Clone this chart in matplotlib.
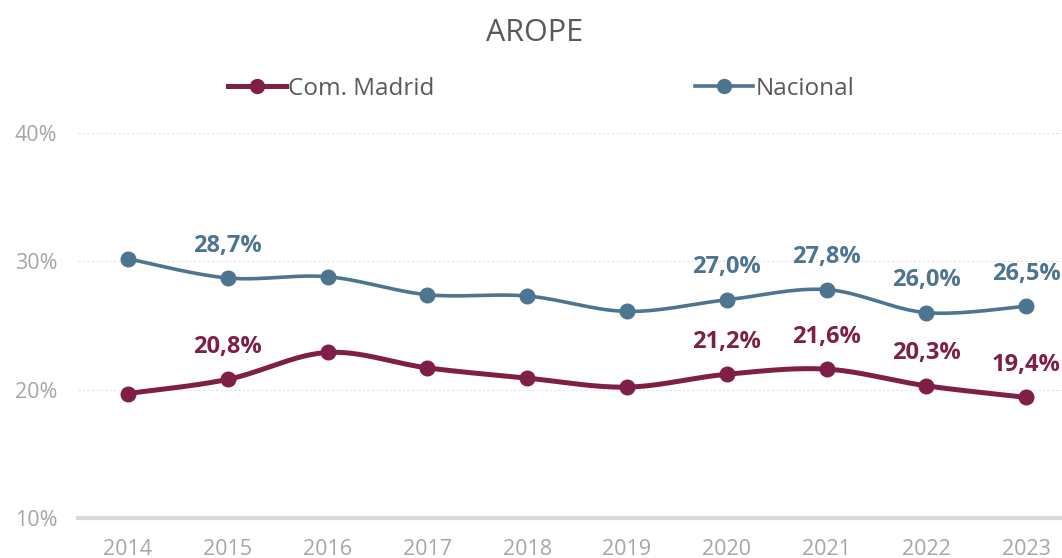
import matplotlib
matplotlib.use("Agg")
import matplotlib.pyplot as plt
import numpy as np

plt.rcParams['font.family'] = ['Open Sans', 'DejaVu Sans']

years = ['2014', '2015', '2016', '2017', '2018', '2019', '2020', '2021', '2022', '2023']
madrid = [19.7, 20.8, 22.9, 21.7, 20.9, 20.2, 21.2, 21.6, 20.3, 19.4]
nacional = [30.2, 28.7, 28.8, 27.4, 27.3, 26.1, 27.0, 27.8, 26.0, 26.5]
labelled_years = ['2015', '2020', '2021', '2022', '2023']

c_madrid = '#7f1f45'
c_nacional = '#4e758f'


def smooth(y, steps=30):
    # excel-like smoothed line: bezier segments with catmull-rom control points
    x = np.arange(len(y), dtype=float)
    pts = np.column_stack([x, np.asarray(y, dtype=float)])
    pad = np.vstack([pts[0], pts, pts[-1]])
    out = []
    t = np.linspace(0, 1, steps)[:, None]
    for i in range(len(pts) - 1):
        p0, p1, p2, p3 = pad[i], pad[i + 1], pad[i + 2], pad[i + 3]
        c1 = p1 + (p2 - p0) / 6
        c2 = p2 - (p3 - p1) / 6
        seg = (1 - t) ** 3 * p1 + 3 * (1 - t) ** 2 * t * c1 + 3 * (1 - t) * t ** 2 * c2 + t ** 3 * p2
        out.append(seg if i == 0 else seg[1:])
    out = np.vstack(out)
    return out[:, 0], out[:, 1]


fig = plt.figure(figsize=(10.62, 5.58), dpi=100)
ax = fig.add_axes([78 / 1062, 40 / 558, 998 / 1062, 385 / 558])

x = np.arange(len(years))
for vals, col, lw, name in [(nacional, c_nacional, 2.6, 'Nacional'),
                            (madrid, c_madrid, 3.6, 'Com. Madrid')]:
    sx, sy = smooth(vals)
    ax.plot(sx, sy, color=col, lw=lw, solid_capstyle='round', zorder=3)
    ax.plot(x, vals, 'o', color=col, ms=10.5, zorder=4)
    for i, yr in enumerate(years):
        if yr in labelled_years:
            ax.annotate(f"{vals[i]:.1f}%".replace('.', ','), (x[i], vals[i]),
                        xytext=(0, 19), textcoords='offset points', ha='center', va='baseline',
                        fontsize=17, fontweight='bold', color=col)

# legend handles
h_m, = ax.plot([], [], '-o', color=c_madrid, lw=3.6, ms=10, label='Com. Madrid')
h_n, = ax.plot([], [], '-o', color=c_nacional, lw=2.6, ms=10, label='Nacional')
fig.legend(handles=[h_m, h_n], loc='center', bbox_to_anchor=(541 / 1062, 1 - 89 / 558), ncol=2,
           frameon=False, fontsize=17.5, handlelength=2.4, handletextpad=0.1, columnspacing=10.7,
           labelcolor='#595959')

fig.text(535 / 1062, 1 - 33 / 558, 'AROPE', ha='center', va='center', fontsize=22, color='#595959')

ax.set_xlim(-0.5, 9.5)
ax.set_ylim(10, 40)
ax.set_xticks(x)
ax.set_xticklabels(years)
ax.set_yticks([10, 20, 30, 40])
ax.set_yticklabels(['10%', '20%', '30%', '40%'])
ax.tick_params(length=0, labelsize=15.5, colors='#a6a6a6')
ax.tick_params(axis='x', pad=15)
ax.tick_params(axis='y', pad=15)
for s in ['top', 'right', 'left']:
    ax.spines[s].set_visible(False)
ax.spines['bottom'].set_color('#d9d9d9')
ax.spines['bottom'].set_linewidth(3)
ax.yaxis.grid(True, color='#e3e3e3', lw=0.8, ls=(0, (2, 2)))
ax.set_axisbelow(True)

fig.savefig('out.png', dpi=100)
